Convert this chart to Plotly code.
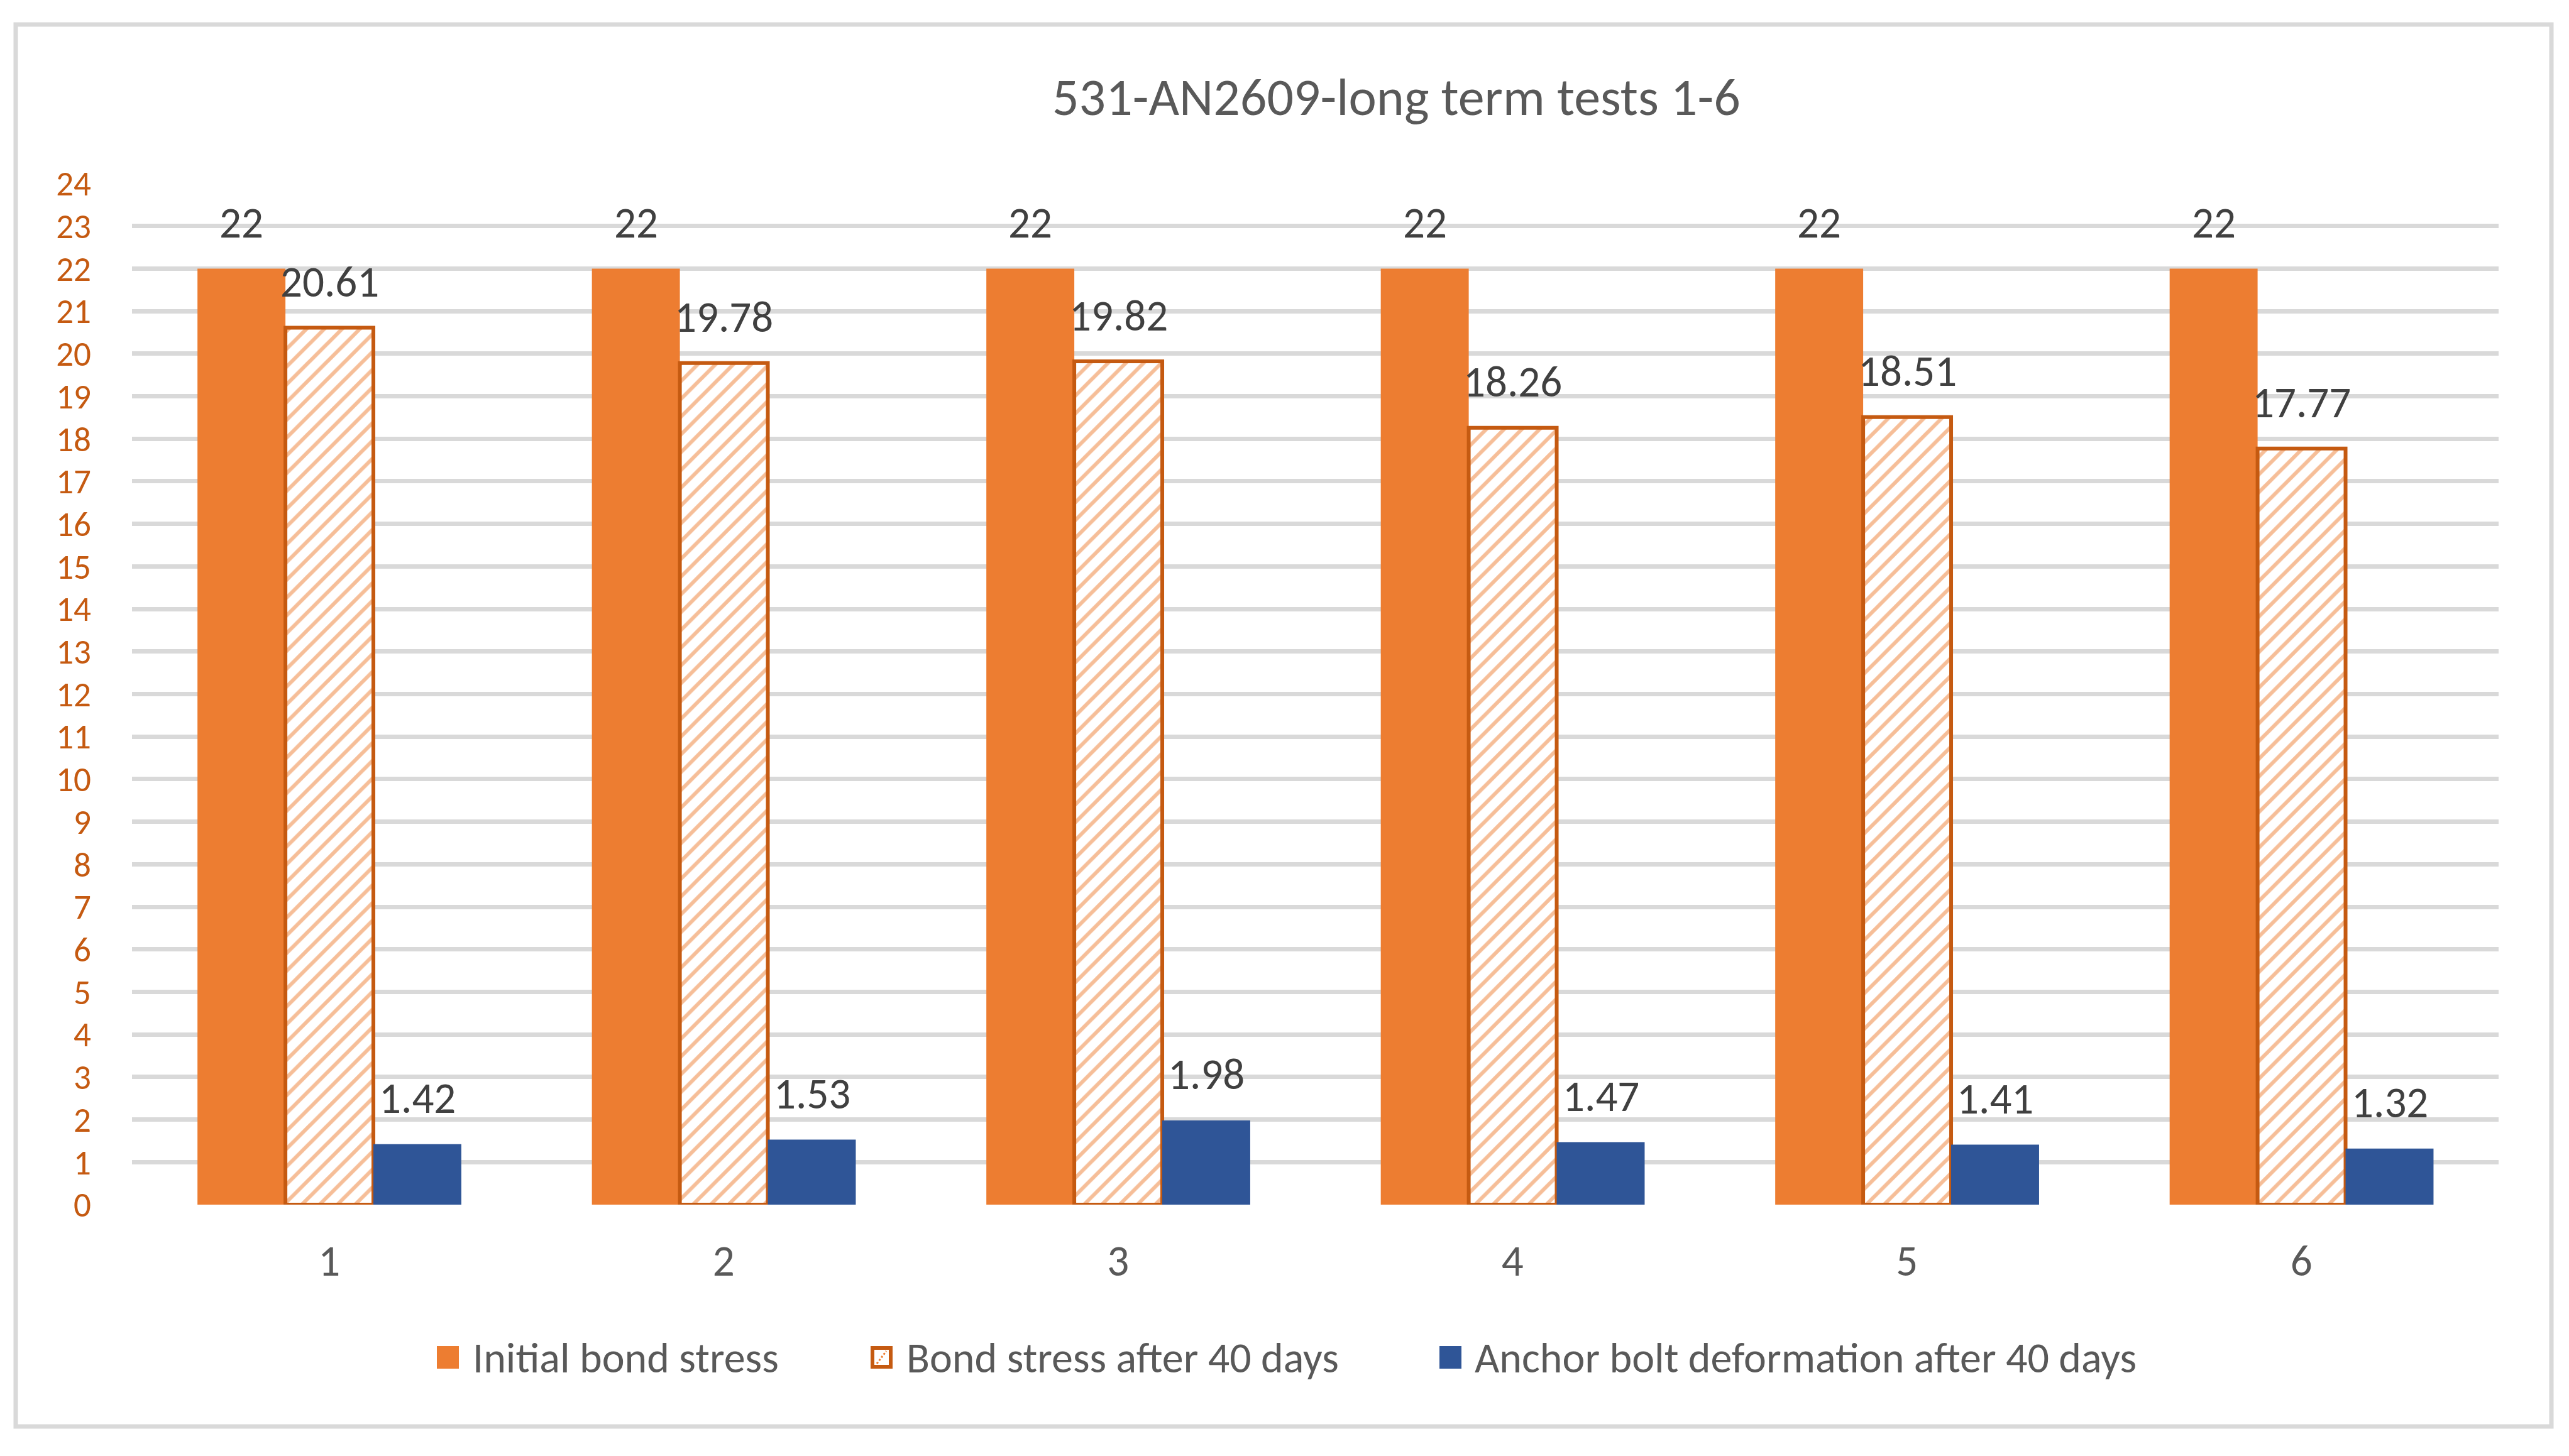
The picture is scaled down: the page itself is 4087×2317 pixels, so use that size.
import plotly.graph_objects as go

# ---- data ----
categories = [1, 2, 3, 4, 5, 6]
category_labels = ["1", "2", "3", "4", "5", "6"]
initial_bond_stress = [22, 22, 22, 22, 22, 22]
bond_stress_after_40 = [20.61, 19.78, 19.82, 18.26, 18.51, 17.77]
bolt_deformation_after_40 = [1.42, 1.53, 1.98, 1.47, 1.41, 1.32]
series_names = ["Initial bond stress", "Bond stress after 40 days",
                "Anchor bolt deformation after 40 days"]
y_ticks = list(range(0, 25))

FONT = "Carlito, Lato, sans-serif"
# the page body has an 8px default margin; compensate so that the
# picture lines up with the 4087x2317 window
OFF = 8
W, H = 4087 - 2 * OFF, 2317 - 2 * OFF
PLOT_X0, PLOT_X1, PLOT_Y0, PLOT_Y1 = 210, 3975, 292, 1917  # window pixels
ML = PLOT_X0 - OFF
MT = PLOT_Y0 - OFF
PW = PLOT_X1 - PLOT_X0
PH = PLOT_Y1 - PLOT_Y0
MR = W - ML - PW
MB = H - MT - PH
BAR_W = 0.223
offsets = [-0.334, -0.111, 0.112]

ORANGE = "#ED7D31"
DARK_ORANGE = "#C55A11"
BLUE = "#2F5597"


def px(x):
    return (x - PLOT_X0) / PW


def py(y):
    return (PLOT_Y1 - y) / PH


fig = go.Figure()

fig.add_trace(go.Bar(
    x=categories, y=initial_bond_stress, name=series_names[0],
    width=BAR_W, offset=offsets[0],
    marker=dict(color=ORANGE, line=dict(width=0)),
))
fig.add_trace(go.Bar(
    x=categories, y=bond_stress_after_40, name=series_names[1],
    width=BAR_W, offset=offsets[1],
    marker=dict(color="#FFFFFF",
                line=dict(color=DARK_ORANGE, width=6),
                pattern=dict(shape="/", fgcolor=ORANGE, bgcolor="#FFFFFF",
                             size=20, solidity=0.3)),
))
fig.add_trace(go.Bar(
    x=categories, y=bolt_deformation_after_40, name=series_names[2],
    width=BAR_W, offset=offsets[2],
    marker=dict(color=BLUE, line=dict(width=0)),
))

annotations = []
# data labels above bars
for series, off in zip([initial_bond_stress, bond_stress_after_40, bolt_deformation_after_40], offsets):
    for c, v in zip(categories, series):
        annotations.append(dict(
            x=c + off + BAR_W / 2, y=v, xref="x", yref="y",
            text=f"{v:g}", showarrow=False, yanchor="middle", yshift=73,
            font=dict(family=FONT, size=69, color="#404040"),
        ))

# title
annotations.append(dict(
    x=px(2221), y=py(155), xref="paper", yref="paper",
    text="531-AN2609-long term tests 1-6", showarrow=False,
    xanchor="center", yanchor="middle",
    font=dict(family=FONT, size=84, color="#595959"),
))

# legend (drawn manually so the swatches match the reference size)
legend_sym_x = [695, 1385, 2290]
legend_txt_x = [750, 1440, 2344]
sym_y0, sym_y1, txt_y = 2142, 2178, 2160
shapes = [dict(type="rect", xref="paper", yref="paper",
               x0=px(25), x1=px(4059), y0=py(2270), y1=py(39),
               line=dict(color="#D9D9D9", width=7), fillcolor="rgba(0,0,0,0)",
               layer="below")]
for i, name in enumerate(series_names):
    sx = legend_sym_x[i]
    if i == 0:
        shapes.append(dict(type="rect", xref="paper", yref="paper",
                           x0=px(sx), x1=px(sx + 35), y0=py(sym_y1), y1=py(sym_y0),
                           fillcolor=ORANGE, line=dict(width=0)))
    elif i == 1:
        shapes.append(dict(type="rect", xref="paper", yref="paper",
                           x0=px(sx + 3), x1=px(sx + 32), y0=py(sym_y1 - 3), y1=py(sym_y0 + 3),
                           fillcolor="white", line=dict(color=DARK_ORANGE, width=6)))
        shapes.append(dict(type="line", xref="paper", yref="paper",
                           x0=px(sx + 10), x1=px(sx + 25), y0=py(sym_y1 - 8), y1=py(sym_y0 + 8),
                           line=dict(color=ORANGE, width=3, dash="dot")))
    else:
        shapes.append(dict(type="rect", xref="paper", yref="paper",
                           x0=px(sx), x1=px(sx + 35), y0=py(sym_y1), y1=py(sym_y0),
                           fillcolor=BLUE, line=dict(width=0)))
    annotations.append(dict(
        x=px(legend_txt_x[i]), y=py(txt_y), xref="paper", yref="paper",
        text=name, showarrow=False, xanchor="left", yanchor="middle",
        font=dict(family=FONT, size=68, color="#595959"),
    ))

fig.update_layout(
    width=W, height=H,
    margin=dict(l=ML, r=MR, t=MT, b=MB),
    paper_bgcolor="white", plot_bgcolor="white",
    barmode="overlay",
    showlegend=False,
    annotations=annotations,
    shapes=shapes,
)

fig.update_xaxes(
    range=[0.5, 6.5], tickvals=categories, ticktext=category_labels,
    showgrid=False, zeroline=False, showline=False, ticks="",
    tickfont=dict(family=FONT, size=69, color="#595959"),
    ticklabelstandoff=43,
)
fig.update_yaxes(
    range=[0, 24], tickvals=y_ticks, ticktext=[str(t) for t in y_ticks],
    showgrid=True, gridcolor="#D9D9D9", gridwidth=7,
    zeroline=False, showline=False, ticks="",
    tickfont=dict(family=FONT, size=55, color=DARK_ORANGE),
    ticklabelstandoff=64,
)

fig.write_html("out.html")
